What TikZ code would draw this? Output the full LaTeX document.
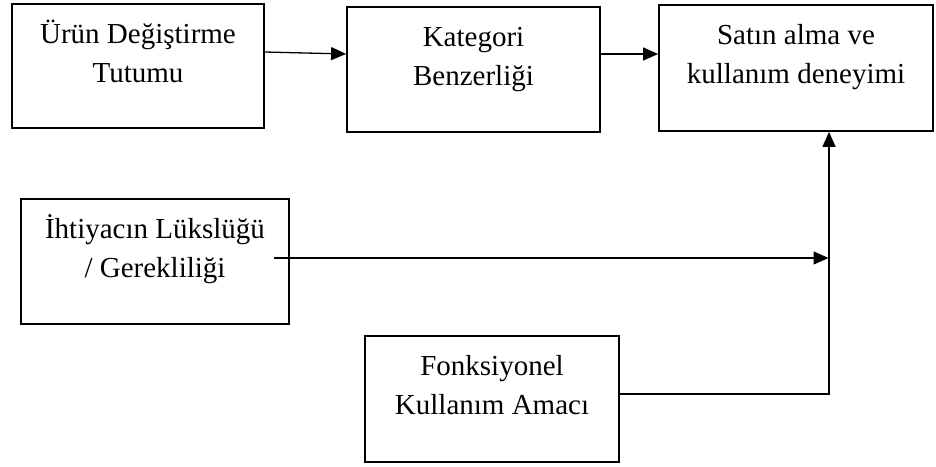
\documentclass[tikz,border=0pt]{standalone}
\usepackage{fontspec}
\setmainfont{Liberation Serif}
\usetikzlibrary{arrows.meta}
\begin{document}
\begin{tikzpicture}[x=1pt,y=-1pt,
  box/.style={draw=black, line width=1.8pt, rectangle, inner sep=0pt},
  txt/.style={anchor=base, inner sep=0pt, font=\fontsize{29}{39}\selectfont},
  arr/.style={line width=1.3pt, -{Triangle[length=15pt,width=13pt]}},
  ln/.style={line width=1.3pt}]
\useasboundingbox (0,0) rectangle (936,466);
% boxes
\node[box, minimum width=252pt, minimum height=124pt] (b1) at (138,66) {};
\node[box, minimum width=253pt, minimum height=125pt] (b2) at (473.5,69.5) {};
\node[box, minimum width=274pt, minimum height=126pt] (b3) at (796,68) {};
\node[box, minimum width=268pt, minimum height=125pt] (b4) at (155,261.5) {};
\node[box, minimum width=254pt, minimum height=126pt] (b5) at (492,399) {};
% texts
\node[txt] (t1a) at (138,43) {Ürün Değiştirme};
\node[txt] (t1b) at (138,82) {Tutumu};
\node[txt] (t2a) at (473.5,46) {Kategori};
\node[txt] (t2b) at (473.5,85) {Benzerliği};
\node[txt] (t3a) at (796,44) {Satın alma ve};
\node[txt] (t3b) at (796,83) {kullanım deneyimi};
\node[txt] (t4a) at (155,238) {İhtiyacın Lükslüğü};
\node[txt] (t4b) at (155,277) {/ Gerekliliği};
\node[txt] (t5a) at (492,375) {Fonksiyonel};
\node[txt] (t5b) at (492,414) {Kullanım Amacı};
% connectors
\draw[arr] (b1.east |- 0,52) -- (b2.west |- 0,54);
\draw[arr] (b2.east |- 0,54) -- (b3.west |- 0,54);
\draw[arr] (b5.east |- 0,394) -| (829,0 |- b3.south);
\coordinate (m) at (828.5,258);
\draw[arr] (b4.east |- 0,258) ++(-16,0) -- (m);
\end{tikzpicture}
\end{document}
